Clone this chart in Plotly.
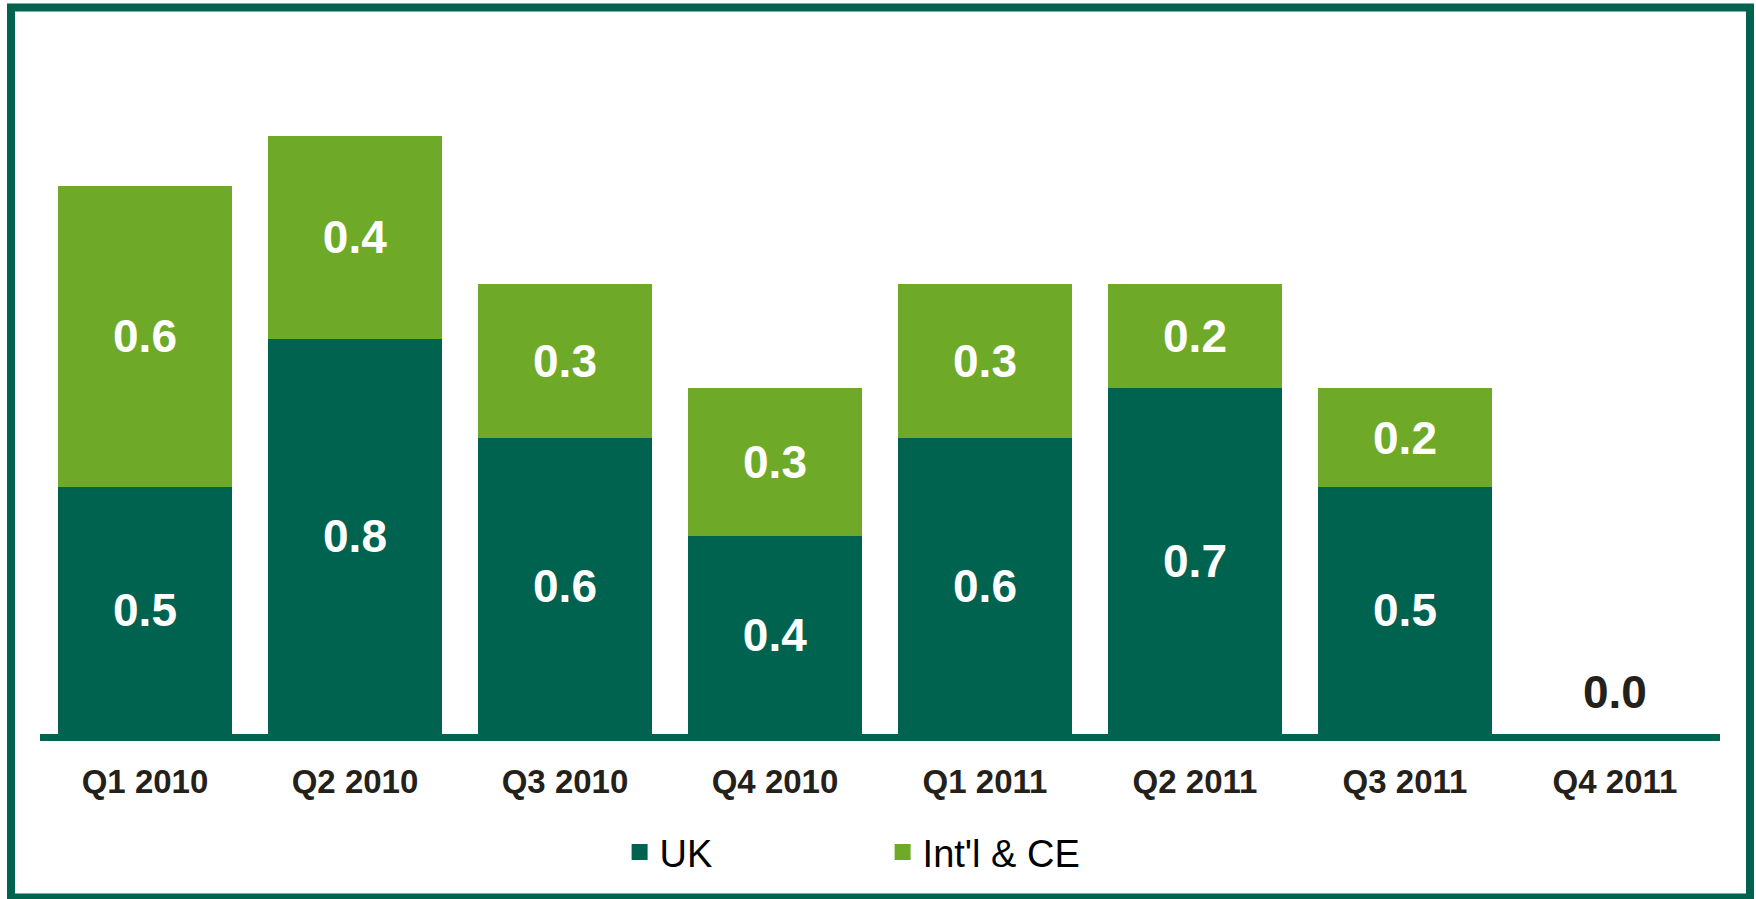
import plotly.graph_objects as go

quarters = ["Q1 2010", "Q2 2010", "Q3 2010", "Q4 2010",
            "Q1 2011", "Q2 2011", "Q3 2011", "Q4 2011"]
uk_values = [0.50, 0.80, 0.60, 0.40, 0.60, 0.70, 0.50, 0.0]
intl_values = [0.61, 0.41, 0.31, 0.30, 0.31, 0.21, 0.20, 0.0]
series_names = ["UK", "Int'l & CE"]

DARK = "#00634F"
LIGHT = "#6EAA27"
INK = "#24201A"
FONT = "Liberation Sans, Arial, sans-serif"

totals = [u + i for u, i in zip(uk_values, intl_values)]


def labels(vals):
    return [f"{v:.1f}" if v > 0 else "" for v in vals]


fig = go.Figure()
fig.add_bar(x=quarters, y=uk_values, name=series_names[0], marker_color=DARK,
            marker_line_width=0, text=labels(uk_values), textposition="inside",
            insidetextanchor="middle", showlegend=False,
            textfont=dict(family=FONT, size=46, color="white", weight="bold"))
fig.add_bar(x=quarters, y=intl_values, name=series_names[1], marker_color=LIGHT,
            marker_line_width=0, text=labels(intl_values), textposition="inside",
            insidetextanchor="middle", showlegend=False,
            textfont=dict(family=FONT, size=46, color="white", weight="bold"))

# legend proxies
for nm, col in zip(series_names, [DARK, LIGHT]):
    fig.add_scatter(x=[quarters[0]], y=[None], mode="markers", name=nm,
                    marker=dict(symbol="square", size=16, color=col))

# label for empty quarters
annotations = [dict(x=q, y=t, xref="x", yref="y", text=f"{t:.1f}",
                    showarrow=False, yanchor="bottom", yshift=14,
                    font=dict(family=FONT, size=46, color=INK, weight="bold"))
               for q, t in zip(quarters, totals) if t == 0]

fig.update_layout(
    width=1756, height=899,
    margin=dict(l=40, r=36, t=30, b=165),
    barmode="stack", bargap=0.167,
    paper_bgcolor="white", plot_bgcolor="white",
    showlegend=True,
    legend=dict(orientation="h", x=0.345, xanchor="left", y=-0.168, yanchor="middle",
                traceorder="normal",
                font=dict(family=FONT, size=38, color="#000000"),
                entrywidth=218, entrywidthmode="pixels", itemsizing="trace",
                bgcolor="rgba(0,0,0,0)"),
    xaxis=dict(showline=True, linecolor=DARK, linewidth=7, ticks="",
               showgrid=False, zeroline=False, ticklabelstandoff=12,
               tickfont=dict(family=FONT, size=33, color=INK, weight="bold")),
    yaxis=dict(visible=False, range=[0, 1.425], showgrid=False, zeroline=False),
    annotations=annotations,
    shapes=[dict(type="rect", xref="paper", yref="paper",
                 x0=(11 - 40) / 1680, x1=(1750 - 40) / 1680,
                 y0=(734 - 897.5) / 704, y1=(734 - 7.5) / 704,
                 line=dict(color=DARK, width=8), fillcolor="rgba(0,0,0,0)",
                 layer="above")],
)

fig.write_html("out.html", config={"displayModeBar": False},
               post_script="document.body.style.margin='0';document.body.style.overflow='hidden';")
